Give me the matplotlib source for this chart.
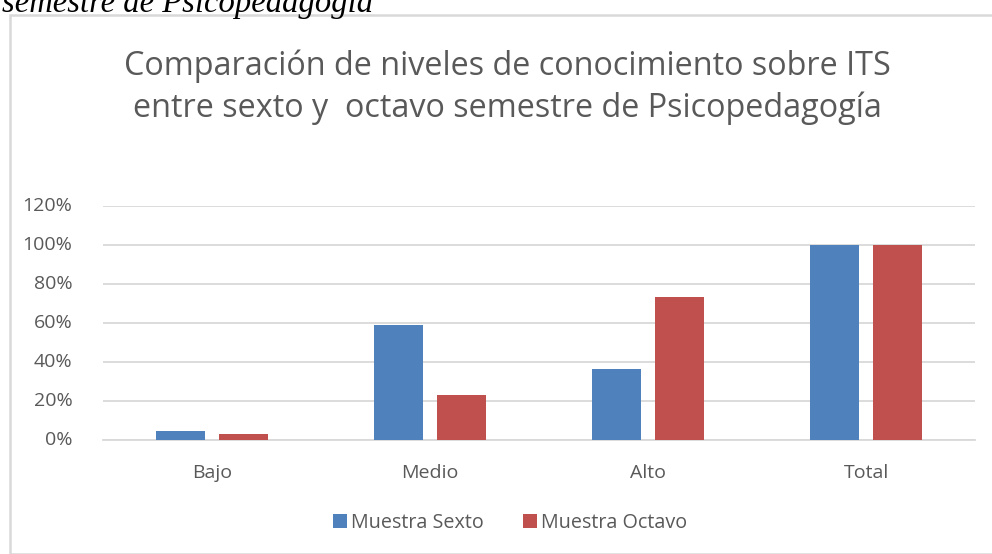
import matplotlib
matplotlib.use("Agg")
import matplotlib.pyplot as plt
from matplotlib.patches import Rectangle
import numpy as np

categories = ["Bajo", "Medio", "Alto", "Total"]
muestra_sexto = [0.045, 0.591, 0.364, 1.0]
muestra_octavo = [0.033, 0.233, 0.733, 1.0]
series_labels = ["Muestra Sexto", "Muestra Octavo"]
yticks = [0, 0.2, 0.4, 0.6, 0.8, 1.0, 1.2]
ytick_labels = ["0%", "20%", "40%", "60%", "80%", "100%", "120%"]
title_lines = ["Comparación de niveles de conocimiento sobre ITS",
               "entre sexto y  octavo semestre de Psicopedagogía"]
caption = "semestre de Psicopedagogía"

FONT = "Open Sans"
TXT = "#595959"
BLUE = "#4F81BD"
RED = "#C0504D"
GRID = "#D9D9D9"

fig = plt.figure(figsize=(9.92, 5.54), dpi=100)
W, H = 992, 554

# chart frame
fig.patches.append(Rectangle((10 / W, 0), 1.2, 1 - 15 / H, transform=fig.transFigure,
                             fill=False, edgecolor=GRID, linewidth=1.8))

fig.text(2 / W, 1 - 12 / H, caption, family="Liberation Serif", style="italic",
         fontsize=23.5, color="black", ha="left", va="baseline")

ax = fig.add_axes([103 / W, 1 - 440 / H, (975 - 103) / W, (440 - 206) / H])
x = np.arange(len(categories))
bw = 0.225
off = (bw + 0.06) / 2
ax.bar(x - off, muestra_sexto, bw, color=BLUE, label=series_labels[0], zorder=3)
ax.bar(x + off, muestra_octavo, bw, color=RED, label=series_labels[1], zorder=3)

ax.set_xlim(-0.5, 3.5)
ax.set_ylim(0, 1.2)
ax.set_yticks(yticks)
ax.set_yticklabels(ytick_labels)
ax.set_xticks(x)
ax.set_xticklabels(categories)
ax.yaxis.grid(True, color=GRID, linewidth=1.3, zorder=0)
ax.set_axisbelow(True)
for s in ["top", "right", "left"]:
    ax.spines[s].set_visible(False)
ax.spines["bottom"].set_color(GRID)
ax.spines["bottom"].set_linewidth(1.3)
ax.tick_params(axis="both", length=0, labelsize=14, labelcolor=TXT)
ax.tick_params(axis="y", pad=22)
ax.tick_params(axis="x", pad=22)
for lab in ax.get_xticklabels() + ax.get_yticklabels():
    lab.set_family(FONT)
    lab.set_verticalalignment("center")
for lab in ax.get_xticklabels():
    lab.set_verticalalignment("center_baseline")

fig.text(507 / W, 1 - 66 / H, title_lines[0], family=FONT, fontsize=23.3, color=TXT,
         ha="center", va="center")
fig.text(507 / W, 1 - 108 / H, title_lines[1], family=FONT, fontsize=23.3, color=TXT,
         ha="center", va="center")

leg = fig.legend(loc="center", bbox_to_anchor=(510 / W, 1 - 523 / H), ncol=2,
                 frameon=False, handlelength=0.7, handleheight=0.7,
                 handletextpad=0.2, columnspacing=2.0,
                 prop={"family": FONT, "size": 14.2})
for t in leg.get_texts():
    t.set_color(TXT)

fig.savefig("out.png", dpi=100)
